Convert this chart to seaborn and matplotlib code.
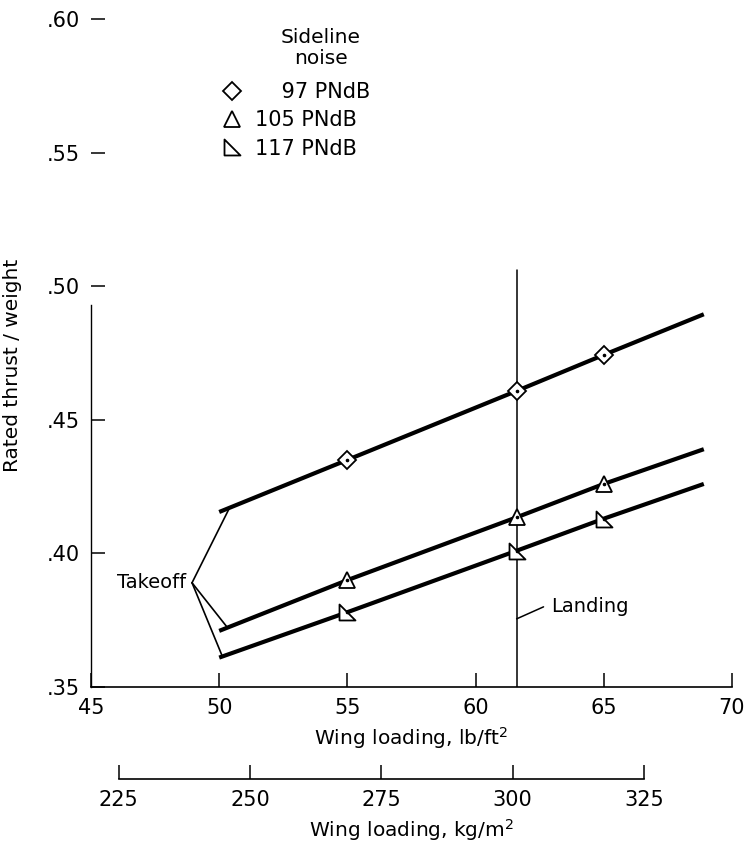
import numpy as np
import pandas as pd
import matplotlib
matplotlib.use("Agg")
import matplotlib.pyplot as plt
from matplotlib.path import Path
from matplotlib.lines import Line2D
import seaborn as sns

# ---------------- data ----------------
wing_loading = [50.0, 55.0, 61.6, 65.0, 68.9]          # lb/ft^2
tw_97 = [0.4155, 0.435, 0.4608, 0.4743, 0.4895]
tw_105 = [0.371, 0.390, 0.4135, 0.426, 0.439]
tw_117 = [0.361, 0.378, 0.401, 0.413, 0.426]
marker_idx = [1, 2, 3]
series_labels = ["97 PNdB", "105 PNdB", "117 PNdB"]

takeoff_point = (48.94, 0.389)
takeoff_ends_x = [50.4, 50.3, 50.1]
takeoff_ends_y = [0.417, 0.3725, 0.362]

landing_x = 61.6
landing_y = [0.35, 0.506]
landing_leader_x = [61.6, 62.65]
landing_leader_y = [0.3755, 0.380]

xticks = [45, 50, 55, 60, 65, 70]
yticks = [0.35, 0.40, 0.45, 0.50, 0.55, 0.60]
ytick_labels = [".35", ".40", ".45", ".50", ".55", ".60"]
kg_ticks = [225, 250, 275, 300, 325]
LB_TO_KG = 4.88243

# ---------------- style ----------------
sns.set_style("ticks")
plt.rcParams["font.family"] = ["DejaVu Sans"]
plt.rcParams["axes.linewidth"] = 1.2
for key in ["text.color", "axes.labelcolor", "xtick.color", "ytick.color",
            "axes.edgecolor"]:
    plt.rcParams[key] = "black"

fig = plt.figure(figsize=(7.49, 8.44), dpi=100)
ax = fig.add_axes([91 / 749, 1 - 687 / 844, (732 - 91) / 749, (687 - 19) / 844])

rtri = Path([(-1, -1), (1, -1), (-1, 1), (-1, -1)],
            [Path.MOVETO, Path.LINETO, Path.LINETO, Path.CLOSEPOLY])
markers = ["D", "^", rtri]
msizes = [9.5, 11.5, 11.5]
series = [tw_97, tw_105, tw_117]

rows = []
for lab, ys in zip(series_labels, series):
    for x, y in zip(wing_loading, ys):
        rows.append({"wl": x, "tw": y, "noise": lab})
df = pd.DataFrame(rows)

sns.lineplot(data=df, x="wl", y="tw", units="noise", estimator=None,
             color="black", linewidth=3.0, ax=ax, legend=False,
             solid_capstyle="butt")

for ys, m, ms in zip(series, markers, msizes):
    xs = [wing_loading[i] for i in marker_idx]
    yy = [ys[i] for i in marker_idx]
    ax.plot(xs, yy, linestyle="none", marker=m, markersize=ms,
            markerfacecolor="white", markeredgecolor="black",
            markeredgewidth=1.3, zorder=5)
    ax.plot(xs, yy, linestyle="none", marker="o", markersize=1.6,
            color="black", zorder=6)

# takeoff leaders
for ex, ey in zip(takeoff_ends_x, takeoff_ends_y):
    ax.plot([takeoff_point[0], ex], [takeoff_point[1], ey],
            color="black", linewidth=1.2)
ax.text(takeoff_point[0] - 0.22, takeoff_point[1], "Takeoff",
        ha="right", va="center", fontsize=14)

# landing line
ax.plot([landing_x, landing_x], landing_y, color="black", linewidth=1.1)
ax.plot(landing_leader_x, landing_leader_y, color="black", linewidth=1.1)
ax.text(landing_leader_x[1] + 0.3, landing_leader_y[1], "Landing",
        ha="left", va="center", fontsize=14)

# axes
ax.set_xlim(45, 70)
ax.set_ylim(0.35, 0.60)
ax.set_xticks(xticks)
ax.set_yticks(yticks)
ax.set_yticklabels(ytick_labels)
ax.tick_params(axis="both", direction="in", length=10, width=1.1,
               labelsize=15, pad=8)
sns.despine(ax=ax, top=True, right=True)
ax.spines["left"].set_bounds(0.35, 0.493)
ax.spines["left"].set_linewidth(1.0)
ax.set_xlabel("Wing loading, lb/ft$^2$", fontsize=14.5, labelpad=5)
ax.set_ylabel("Rated thrust / weight", fontsize=14.5)
ax.yaxis.set_label_coords(-0.108, 0.482)

# secondary axis in kg/m^2
secax = ax.secondary_xaxis((687 - 779) / 668,
                           functions=(lambda x: x * LB_TO_KG,
                                      lambda x: x / LB_TO_KG))
secax.set_xticks(kg_ticks)
secax.tick_params(direction="in", length=10, width=1.1, labelsize=15, pad=8)
secax.spines["bottom"].set_bounds(kg_ticks[0], kg_ticks[-1])
secax.set_xlabel("Wing loading, kg/m$^2$", fontsize=14.5, labelpad=5)

# legend
handles = [Line2D([], [], linestyle="none", marker=m, markersize=ms,
                  markerfacecolor="white", markeredgecolor="black",
                  markeredgewidth=1.3) for m, ms in zip(markers, msizes)]
labels = ["\u2007\u2007" + series_labels[0], series_labels[1], series_labels[2]]
leg = ax.legend(handles, labels, loc="upper left",
                bbox_to_anchor=((222 - 91) / 641, (687 - 82) / 668),
                frameon=False, fontsize=15, handlelength=1.0,
                handletextpad=0.6, labelspacing=0.4, borderpad=0,
                borderaxespad=0)
ax.text((321 - 91) / 641, (687 - 48) / 668, "Sideline\nnoise",
        transform=ax.transAxes, ha="center", va="center", fontsize=14.5,
        linespacing=1.15, multialignment="center")

fig.savefig("out.png", dpi=100)
